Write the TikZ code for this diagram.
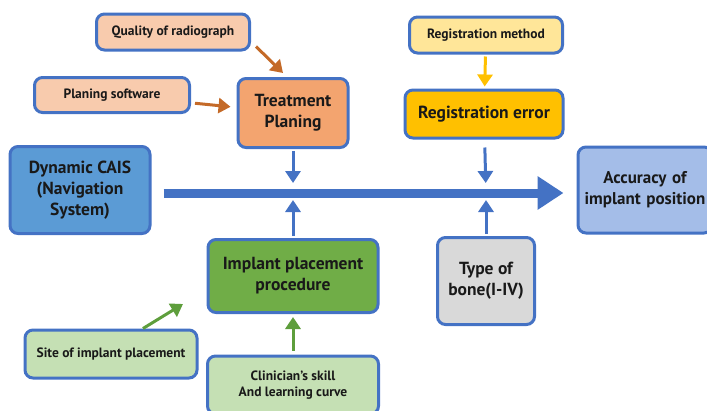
\documentclass[tikz,border=0pt]{standalone}
\usepackage{fontspec}
\setsansfont{PT Sans}
\usetikzlibrary{arrows.meta}
\definecolor{frame}{HTML}{4472C4}
\definecolor{peach}{HTML}{F8CBAD}
\definecolor{planorange}{HTML}{F3A46F}
\definecolor{brownarrow}{HTML}{C46A28}
\definecolor{lightyellow}{HTML}{FFE699}
\definecolor{gold}{HTML}{FFC000}
\definecolor{caisblue}{HTML}{5B9BD5}
\definecolor{accblue}{HTML}{A4BDE8}
\definecolor{procgreen}{HTML}{70AD47}
\definecolor{lightgreen}{HTML}{C5E0B4}
\definecolor{bonegray}{HTML}{D9D9D9}
\definecolor{greenarrow}{HTML}{5E9E3C}
\begin{document}
\begin{tikzpicture}[
  x=1pt, y=-1pt,
  box/.style={rectangle, rounded corners=8pt, draw=frame, line width=3pt, align=center,
    text=black!90, font=\sffamily\bfseries, inner sep=2pt},
  small/.style={box, font=\sffamily\bfseries\fontsize{13.5}{15.5}\selectfont},
  big/.style={box, font=\sffamily\bfseries\fontsize{17.5}{21}\selectfont},
  link/.style={-{Triangle[length=12pt,width=15pt]}, line width=3pt},
  mainarrow/.style={-{Triangle[length=26pt,width=32pt]}, line width=9pt, draw=frame}
]
\useasboundingbox (0,0) rectangle (707,410);
% Planning side
\node[small, fill=peach, minimum width=153pt, minimum height=36pt] (quality) at (173,32) {Quality of radiograph};
\node[small, fill=peach, minimum width=155pt, minimum height=35pt] (software) at (112,95) {Planing software};
\node[big, fill=planorange, minimum width=110pt, minimum height=69pt] (plan) at (293,113) {Treatment\\Planing};

% Registration side
\node[small, fill=lightyellow, minimum width=153pt, minimum height=36pt] (method) at (486,35) {Registration method};
\node[big, fill=gold, minimum width=158pt, minimum height=48pt] (regerror) at (484,114) {Registration error};

% Main line
\node[big, fill=caisblue, minimum width=140pt, minimum height=87pt] (cais) at (80,190) {Dynamic CAIS\\(Navigation\\System)};
\node[big, fill=accblue, minimum width=134pt, minimum height=86pt, text width=124pt,
  font=\sffamily\bfseries\fontsize{17}{21}\selectfont] (accuracy) at (645,190) {Accuracy of\\implant position};

% Lower side
\node[big, fill=procgreen, minimum width=170pt, minimum height=73pt] (procedure) at (293,276) {Implant placement\\procedure};
\node[big, fill=bonegray, minimum width=97pt, minimum height=87pt] (bone) at (486,281) {Type of\\bone(I-IV)};
\node[small, fill=lightgreen, minimum width=172pt, minimum height=48pt] (site) at (111,354) {Site of implant placement};
\node[small, fill=lightgreen, minimum width=171pt, minimum height=58pt] (skill) at (293,385) {Clinician's skill\\And learning curve};

% Junctions on the main line
\coordinate (j1) at (293,193);
\coordinate (j2) at (486,193);
\coordinate (qtip) at (283,73);
\coordinate (sitetip) at (183,304);

% Connections
\draw[mainarrow, shorten <=12pt, shorten >=13pt] (cais.east |- j1) -- (accuracy.west |- j1);
\draw[link, draw=brownarrow] ([shift={(5,-5)}]quality.south east) -- (qtip);
\draw[link, draw=brownarrow, shorten <=4pt, shorten >=6pt] (software) -- (plan);
\draw[link, draw=gold, shorten <=2pt, shorten >=2pt] (method) -- (regerror);
\draw[link, draw=frame, shorten <=2pt, shorten >=10pt] (plan) -- (j1);
\draw[link, draw=frame, shorten <=2pt, shorten >=7pt] (procedure) -- (j1);
\draw[link, draw=frame, shorten <=8pt, shorten >=10pt] (regerror) -- (j2);
\draw[link, draw=frame, shorten <=2pt, shorten >=7pt] (bone) -- (j2);
\draw[link, draw=greenarrow] (site.north) ++(32,0) -- (sitetip);
\draw[link, draw=greenarrow, shorten <=4pt, shorten >=3pt] (skill) -- (procedure);
\end{tikzpicture}
\end{document}
